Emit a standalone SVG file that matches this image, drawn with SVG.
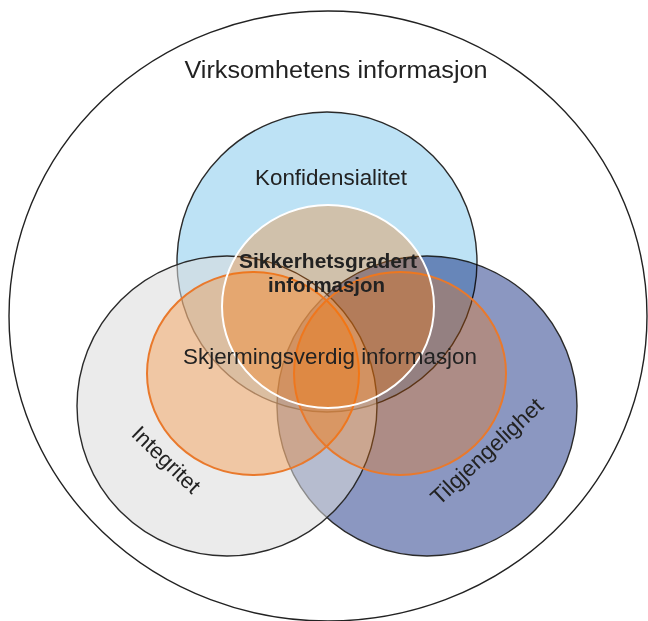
<svg xmlns="http://www.w3.org/2000/svg" width="648" height="621" viewBox="0 0 648 621">
<style>
  .big{stroke:#2a2a2a;stroke-width:1.4}
  .org{fill:#fc7400;fill-opacity:0.3;stroke:#e9792c;stroke-width:2}
  .lbl{font-family:"Liberation Sans",Arial,sans-serif;fill:#222;text-anchor:middle}
</style>
<rect width="648" height="621" fill="#ffffff"/>
<g id="virksomhet">
  <ellipse cx="328" cy="316" rx="319" ry="305" fill="#ffffff" stroke="#222" stroke-width="1.4"/>
</g>
<g id="konfidensialitet">
  <circle class="big" cx="327" cy="262" r="150" fill="#bde2f5"/>
</g>
<g id="tilgjengelighet">
  <circle class="big" cx="427" cy="406" r="150" fill="#8b97c1" style="mix-blend-mode:multiply"/>
</g>
<g id="integritet">
  <circle class="big" cx="227" cy="406" r="150" fill="#dbdbdb" fill-opacity="0.55"/>
</g>
<g id="skjermingsverdig-venstre">
  <ellipse class="org" cx="253" cy="373.5" rx="106" ry="101.5"/>
</g>
<g id="skjermingsverdig-hoyre">
  <ellipse class="org" cx="400" cy="373.5" rx="106" ry="101.5"/>
</g>
<g id="sikkerhetsgradert">
  <ellipse cx="328" cy="306.5" rx="106" ry="101.5" fill="#fc7400" fill-opacity="0.3" stroke="#ffffff" stroke-width="2"/>
</g>
<g id="labels">
  <text id="t-virksomhet" class="lbl" x="336" y="78" font-size="23" textLength="303" lengthAdjust="spacingAndGlyphs">Virksomhetens informasjon</text>
  <text id="t-konf" class="lbl" x="331" y="185" font-size="21.5" textLength="152" lengthAdjust="spacingAndGlyphs">Konfidensialitet</text>
  <text id="t-sikk1" class="lbl" x="328" y="268" font-size="20" font-weight="bold" textLength="178" lengthAdjust="spacingAndGlyphs">Sikkerhetsgradert</text>
  <text id="t-sikk2" class="lbl" x="326.5" y="292" font-size="20" font-weight="bold" textLength="117" lengthAdjust="spacingAndGlyphs">informasjon</text>
  <text id="t-skj" class="lbl" x="330" y="364" font-size="21.5" textLength="294" lengthAdjust="spacingAndGlyphs">Skjermingsverdig informasjon</text>
  <text id="t-int" class="lbl" font-size="22" transform="translate(161,465) rotate(44)">Integritet</text>
  <text id="t-tilg" class="lbl" font-size="22.5" transform="translate(492,457) rotate(-43)">Tilgjengelighet</text>
</g>
</svg>
